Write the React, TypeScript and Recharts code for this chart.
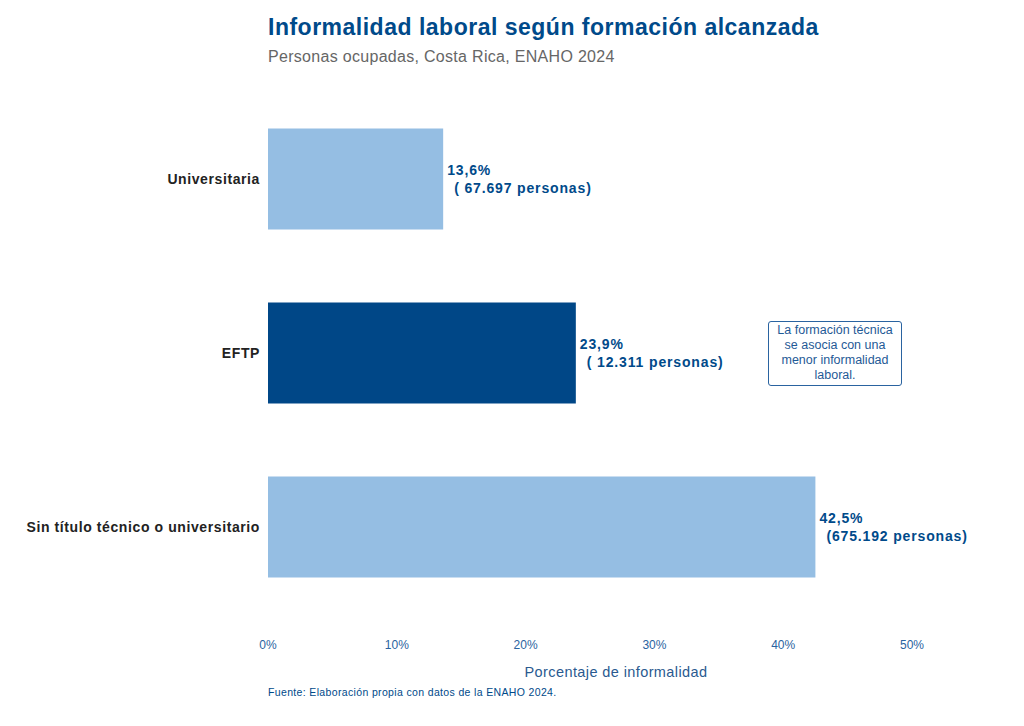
import { BarChart, Bar, XAxis, YAxis, Cell, LabelList } from 'recharts'

const categories = ['Universitaria', 'EFTP', 'Sin título técnico o universitario']
const percents = [13.6, 23.9, 42.5]
const persons = ['67.697', '12.311', '675.192']
const highlight = [false, true, false]
const xTicks = [0, 10, 20, 30, 40, 50]

const data = categories.map((c, i) => ({ name: c, value: percents[i], persons: persons[i], hi: highlight[i] }))

const BLUE = '#004a8a'
const FONT = '"Liberation Sans", Arial, sans-serif'

const fmtPct = (v: number) => `${v.toFixed(1).replace('.', ',')}%`

function BarLabel(props: any) {
  const { x, y, width, height, index } = props
  const d = data[index]
  const lx = x + width + 4
  const cy = y + height / 2
  return (
    <text fill={BLUE} fontSize={14} fontWeight="bold" fontFamily={FONT} style={{ letterSpacing: 0.85 }}>
      <tspan x={lx} y={cy - 4}>{fmtPct(d.value)}</tspan>
      <tspan x={lx + 7} y={cy + 14}>({d.persons.length < 7 ? ' ' : ''}{d.persons} personas)</tspan>
    </text>
  )
}

export default function App() {
  return (
    <div style={{ position: 'absolute', left: 0, top: 0, width: 1024, height: 726, background: '#fff', fontFamily: FONT }}>
      <div style={{ position: 'absolute', left: 268, top: 14, fontSize: 23, fontWeight: 'bold', color: BLUE, letterSpacing: 0.5 }}>
        Informalidad laboral según formación alcanzada
      </div>
      <div style={{ position: 'absolute', left: 268, top: 48, fontSize: 16, color: '#666', letterSpacing: 0.3 }}>
        Personas ocupadas, Costa Rica, ENAHO 2024
      </div>
      <BarChart
        width={1024}
        height={726}
        data={data}
        layout="vertical"
        margin={{ top: 92, right: 112, bottom: 82, left: 0 }}
        barCategoryGap="21%"
      >
        <XAxis
          type="number"
          domain={[0, 50]}
          ticks={xTicks}
          tickFormatter={(v) => `${v}%`}
          axisLine={false}
          tickLine={false}
          tickMargin={20}
          height={30}
          tick={{ fontSize: 12, fill: '#2a63a0', fontFamily: FONT }}
        />
        <YAxis
          type="category"
          dataKey="name"
          width={268}
          axisLine={false}
          tickLine={false}
          tickMargin={2}
          tick={{ fontSize: 14, fill: '#222', fontWeight: 'bold', fontFamily: FONT, style: { letterSpacing: 0.6 } }}
        />
        <Bar dataKey="value" isAnimationActive={false}>
          {data.map((d, i) => (
            <Cell key={i} fill={d.hi ? '#004787' : '#95bee3'} />
          ))}
          <LabelList dataKey="value" content={BarLabel} />
        </Bar>
      </BarChart>
      <div
        style={{
          position: 'absolute', left: 768, top: 321, width: 132, height: 62,
          border: '1px solid #2a63a0', borderRadius: 3, color: '#1f5a96', fontSize: 12.5,
          textAlign: 'center', lineHeight: '15px', paddingTop: 1,
        }}
      >
        La formación técnica<br />se asocia con una<br />menor informalidad<br />laboral.
      </div>
      <div style={{ position: 'absolute', left: 0, width: 1232, top: 664, textAlign: 'center', fontSize: 14.5, color: '#2a5a90', letterSpacing: 0.4 }}>
        Porcentaje de informalidad
      </div>
      <div style={{ position: 'absolute', left: 268, top: 686, fontSize: 10.5, color: BLUE, letterSpacing: 0.35 }}>
        Fuente: Elaboración propia con datos de la ENAHO 2024.
      </div>
    </div>
  )
}
